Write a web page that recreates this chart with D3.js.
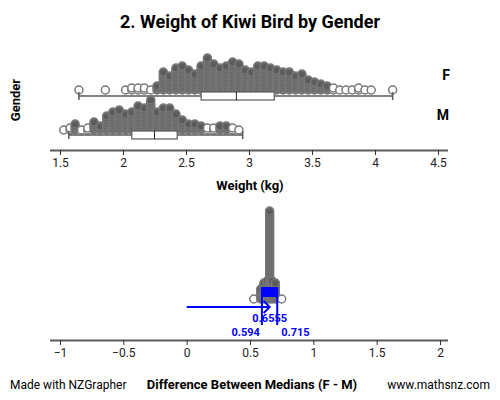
<!DOCTYPE html>
<html><head><meta charset="utf-8">
<script src="https://cdn.jsdelivr.net/npm/d3@7"></script>
<style>body{margin:0;background:#fff;font-family:Roboto,sans-serif}</style>
</head><body><svg id="c" width="500" height="400"></svg>
<script>
// dot columns: weight (kg) and how many dots stacked
const fWeights = [1.65,1.86,2.02,2.07,2.12,2.17,2.22,2.27,2.32,2.37,2.42,2.47,2.52,2.57,2.62,2.67,2.72,2.77,2.82,2.87,2.92,2.97,3.02,3.07,3.12,3.17,3.22,3.27,3.32,3.37,3.42,3.47,3.52,3.57,3.62,3.67,3.72,3.77,3.82,3.87,3.92,3.97,4.14];
const fCounts  = [1,1,1,2,2,2,1,3,10,8,12,13,11,9,13,17,14,12,13,15,14,11,10,13,13,12,11,10,10,8,9,6,5,4,3,2,1,1,1,2,1,1,1];
const mWeights = [1.53,1.58,1.62,1.67,1.72,1.77,1.82,1.87,1.92,1.97,2.02,2.07,2.12,2.17,2.22,2.27,2.32,2.37,2.42,2.47,2.52,2.57,2.62,2.67,2.72,2.77,2.82,2.87,2.92];
const mCounts  = [1,2,4,1,2,5,3,8,10,11,9,10,13,12,16,10,12,12,9,6,4,4,3,2,2,3,3,2,1];
// five number summaries: min, q1, median, q3, max
const fSummary = [1.65,2.62,2.90,3.20,4.14];
const mSummary = [1.57,2.07,2.25,2.43,2.95];
const weightTicks = [1.5,2,2.5,3,3.5,4,4.5];
// bootstrap differences of medians
const bootDiffs  = [0.53,0.585,0.61,0.635,0.655,0.675,0.70,0.75];
const bootCounts = [1,6,9,10,45,10,9,1];
const diffTicks = [-1,-0.5,0,0.5,1,1.5,2];
const observedDiff = 0.6555;
const interval = [0.594,0.715];

const svg = d3.select("#c");
const grey = "#5a5a5a";

svg.append("text").attr("x",250).attr("y",28).attr("text-anchor","middle")
  .attr("font-size",18).attr("font-weight","bold").text("2. Weight of Kiwi Bird by Gender");

const x = d3.scaleLinear().domain([1.5,4.5]).range([60,438]);

function dots(g, xs, counts, base, xsc, r, step){
  xs.forEach((v,i)=>{
    for(let k=0;k<counts[i];k++){
      g.append("circle").attr("cx",xsc(v)).attr("cy",base-k*step).attr("r",r)
        .attr("fill", counts[i]>2 ? grey : "#fff").attr("fill-opacity",counts[i]>2?0.85:1)
        .attr("stroke","#777").attr("stroke-width",1.5);
    }
  });
}
function boxplot(g, s, y){
  g.append("line").attr("x1",x(s[0])).attr("x2",x(s[4])).attr("y1",y).attr("y2",y).attr("stroke",grey).attr("stroke-width",1.5);
  [s[0],s[4]].forEach(v=>g.append("line").attr("x1",x(v)).attr("x2",x(v)).attr("y1",y-4).attr("y2",y+4).attr("stroke",grey).attr("stroke-width",1.5));
  g.append("rect").attr("x",x(s[1])).attr("width",x(s[3])-x(s[1])).attr("y",y-4).attr("height",8).attr("fill","#fff").attr("stroke",grey).attr("stroke-width",1.2);
  g.append("line").attr("x1",x(s[2])).attr("x2",x(s[2])).attr("y1",y-4).attr("y2",y+4).attr("stroke","#222");
}
const upper = svg.append("g");
dots(upper, fWeights, fCounts, 90, x, 4, 2);
boxplot(upper, fSummary, 96);
dots(upper, mWeights, mCounts, 130, x, 4, 2);
boxplot(upper, mSummary, 135);
svg.append("text").attr("x",446).attr("y",80).attr("text-anchor","middle").attr("font-size",14).attr("font-weight","bold").text("F");
svg.append("text").attr("x",443).attr("y",120).attr("text-anchor","middle").attr("font-size",14).attr("font-weight","bold").text("M");
svg.append("text").attr("transform","translate(20,100) rotate(-90)").attr("text-anchor","middle").attr("font-size",13).attr("font-weight","bold").text("Gender");

function axis(y, sc, ticks, fmt){
  const g = svg.append("g").attr("transform",`translate(0,${y})`)
    .call(d3.axisBottom(sc).tickValues(ticks).tickFormat(fmt).tickSize(5).tickSizeOuter(0));
  g.select(".domain").attr("d",`M50,0.5H448`).attr("stroke",grey).attr("stroke-width",2);
  g.selectAll(".tick line").attr("stroke","#333");
  g.selectAll("text").attr("font-size",12).attr("font-family","Roboto").attr("fill","#222");
}
axis(150, x, weightTicks, d3.format(""));
svg.append("text").attr("x",250).attr("y",190).attr("text-anchor","middle").attr("font-size",13).attr("font-weight","bold").text("Weight (kg)");

// bootstrap panel
const xd = d3.scaleLinear().domain([-1,2]).range([60,440]);
const bot = svg.append("g");
dots(bot, bootDiffs, bootCounts, 299, xd, 4, 2);
const blue = "#0000ff";
bot.append("rect").attr("x",xd(interval[0])).attr("width",xd(interval[1])-xd(interval[0])).attr("y",287).attr("height",10).attr("fill",blue);
interval.forEach(v=>bot.append("line").attr("x1",xd(v)).attr("x2",xd(v)).attr("y1",287).attr("y2",325).attr("stroke",blue).attr("stroke-width",2));
bot.append("line").attr("x1",xd(0)).attr("x2",xd(observedDiff)).attr("y1",307).attr("y2",307).attr("stroke",blue).attr("stroke-width",2);
bot.append("path").attr("d",`M${xd(observedDiff)-6},301L${xd(observedDiff)},307L${xd(observedDiff)-6},313`).attr("fill","none").attr("stroke",blue).attr("stroke-width",2);
const lab = (t,xx,y,a)=>svg.append("text").attr("x",xx).attr("y",y).attr("text-anchor",a).attr("font-size",11).attr("font-weight","bold").attr("fill",blue).text(t);
lab(String(observedDiff), xd(observedDiff), 322, "middle");
lab(String(interval[0]), xd(interval[0])-2, 336, "end");
lab(String(interval[1]), xd(interval[1])+4, 336, "start");
axis(340, xd, diffTicks, d3.format(""));

svg.append("text").attr("x",10).attr("y",389).attr("font-size",12).text("Made with NZGrapher");
svg.append("text").attr("x",252).attr("y",389).attr("text-anchor","middle").attr("font-size",13).attr("font-weight","bold").text("Difference Between Medians (F - M)");
svg.append("text").attr("x",490).attr("y",389).attr("text-anchor","end").attr("font-size",12).text("www.mathsnz.com");
</script></body></html>
